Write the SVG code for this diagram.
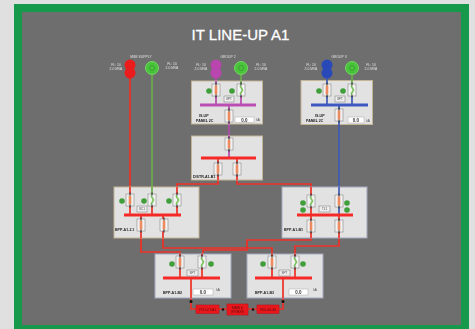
<svg xmlns="http://www.w3.org/2000/svg" xmlns:xlink="http://www.w3.org/1999/xlink" width="475" height="329" viewBox="0 0 475 329">
<style>
text{font-family:"Liberation Sans",Arial,sans-serif}
svg>g{filter:url(#soft)}
.title{font-size:15px;fill:#fff;stroke:#fff;stroke-width:.3;text-anchor:middle}
.panel{fill:#e2e2e2;stroke:#c4b496;stroke-width:1}
.panelb{fill:#e2e2e2;stroke:#a3a9bd;stroke-width:1}
.r{fill:none;stroke:#ee3026;stroke-width:1.700}
.g{fill:none;stroke:#68ad4c;stroke-width:1.700}
.m{fill:none;stroke:#b44aac;stroke-width:1.700}
.b{fill:none;stroke:#3f5ab5;stroke-width:1.700}
.busr{fill:#f52a28}.busm{fill:#b94fb3}.busb{fill:#3d58bf}
.dot{fill:#3f9e3a}
.sg{fill:#4cc43c;stroke:#6fd85f;stroke-width:1}
.sgi{fill:none;stroke:#2f8a2a;stroke-width:.6}
.sl{font-size:3.4px;fill:#e0e0e0;text-anchor:middle}
.pl{font-size:3.6px;fill:#222;font-weight:bold}
.val{fill:#fff;stroke:#aaa;stroke-width:.5}
.vt{font-size:4.5px;fill:#333;text-anchor:middle;font-weight:bold}
.sp{fill:#eee;stroke:#777;stroke-width:.5}
.st{font-size:3px;fill:#444;text-anchor:middle}
.rb{fill:#e9191c;stroke:#c01414;stroke-width:.5}
.rt{font-size:3.2px;fill:#5a0808;text-anchor:middle}
</style>
<defs>
<filter id="soft" x="-5%" y="-5%" width="110%" height="110%"><feGaussianBlur stdDeviation="0.4"/></filter>
<g id="brk"><rect x="-4" y="-6" width="8" height="12" fill="#f2f2f2" stroke="#888" stroke-width=".6"/><rect x="-1.300" y="-4.500" width="2.600" height="9" fill="#ee8a60"/><path d="M0-7.500V-4.500M0 4.500V7.500" stroke="#222" stroke-width="1"/></g>
<g id="brko"><rect x="-4" y="-6" width="8" height="12" fill="#f2f2f2" stroke="#888" stroke-width=".6"/><path d="M-1 -4.500L1.500 0L-1 4.500" fill="none" stroke="#7cc35e" stroke-width="1.600"/><path d="M0-7.500V-4.500M0 4.500V7.500" stroke="#222" stroke-width="1"/></g>
</defs>
<rect width="475" height="329" fill="#e0e0e0"/>
<rect x="14" y="4" width="455" height="325" fill="#17994c"/>
<rect x="22" y="12" width="439" height="313" fill="#6e6e6e"/>
<text class="title" x="240.500" y="40">IT LINE-UP A1</text>

<g id="connectors">
<path class="r" d="M130 78V187"/>
<path class="g" d="M152 75V187"/>
<path class="m" d="M216 78V81M229 124V136"/>
<path class="g" d="M241 75V81"/>
<path class="b" d="M327 78V80M339 125V187"/>
<path class="g" d="M352 75V80"/>
<path class="r" d="M218 180V184H177V187"/>
<path class="r" d="M237 180V184H311V187"/>
<path class="r" d="M141 238V252H180V254"/>
<path class="r" d="M163 238V248H272V254"/>
<path class="r" d="M311 238V240H247V250H203V254"/>
<path class="r" d="M339 238V246H295V254"/>
<path class="r" d="M191 298V309H196M283 298V309H279M219 309H227M248 309H257"/>
<circle cx="191" cy="301.500" r="1.500" fill="#111"/><circle cx="283" cy="301.500" r="1.500" fill="#111"/>
<circle cx="223" cy="309.500" r="1.300" fill="#111"/><circle cx="253" cy="309.500" r="1.300" fill="#111"/>
</g>

<g id="src-msb">
<text class="sl" x="141" y="57.500">MSB SUPPLY</text>
<circle cx="130" cy="65" r="5.500" fill="#ea1f1f"/><circle cx="130" cy="73" r="5.500" fill="#ea1f1f"/>
<circle class="sg" cx="152" cy="68" r="6.500"/><circle class="sgi" cx="152" cy="68" r="2.500"/>
<text class="sl" x="116" y="66">FL: 10</text><text class="sl" x="116" y="70">2.0 MVA</text>
<text class="sl" x="172" y="65">FL: 10</text><text class="sl" x="172" y="69">2.0 MVA</text>
</g>
<g id="src-group2">
<text class="sl" x="228" y="57.500">GROUP 2</text>
<circle cx="216" cy="65" r="5.500" fill="#b944ae"/><circle cx="216" cy="73" r="5.500" fill="#b944ae"/>
<circle class="sg" cx="241" cy="68" r="6.500"/><circle class="sgi" cx="241" cy="68" r="2.500"/>
<text class="sl" x="201" y="66">FL: 10</text><text class="sl" x="201" y="70">2.0 MVA</text>
<text class="sl" x="261" y="66">FL: 10</text><text class="sl" x="261" y="70">2.0 MVA</text>
</g>
<g id="src-group3">
<text class="sl" x="339" y="57.500">GROUP 3</text>
<circle cx="327" cy="65" r="5.500" fill="#2b49b8"/><circle cx="327" cy="73" r="5.500" fill="#2b49b8"/>
<circle class="sg" cx="352" cy="68" r="6.500"/><circle class="sgi" cx="352" cy="68" r="2.500"/>
<text class="sl" x="311" y="66">FL: 10</text><text class="sl" x="311" y="70">2.0 MVA</text>
<text class="sl" x="371" y="66">FL: 10</text><text class="sl" x="371" y="70">2.0 MVA</text>
</g>

<g id="panel-2c-a">
<rect class="panel" x="191.500" y="81" width="71" height="43"/>
<path class="m" d="M216 81V105M229 105V124"/><path class="g" d="M241 81V90"/><path class="m" d="M241 90V105"/>
<rect class="busm" x="200" y="103.500" width="56" height="3"/>
<use href="#brk" x="216" y="90"/><use href="#brko" x="241" y="90"/><use href="#brk" x="229" y="116"/>
<circle class="dot" cx="209" cy="91" r="2.800"/><circle class="dot" cx="232" cy="91" r="2.800"/>
<rect class="sp" x="224" y="96" width="10" height="6"/><text class="st" x="229" y="100">SPT</text>
<text class="pl" x="199" y="117">IS-UP</text><text class="pl" x="196" y="122">PANEL 2C</text>
<rect class="val" x="235" y="117" width="19" height="5.500"/><text class="vt" x="244.500" y="121.500">0.0</text><text class="st" x="258" y="121">kA</text>
</g>
<g id="panel-2c-b">
<rect class="panel" x="301" y="80.500" width="71.500" height="44"/>
<path class="b" d="M327 80V105M339 105V125"/><path class="g" d="M352 80V90"/><path class="b" d="M352 90V105"/>
<rect class="busb" x="311" y="103.500" width="57" height="3"/>
<use href="#brk" x="327" y="90"/><use href="#brko" x="352" y="90"/><use href="#brk" x="339" y="115"/>
<circle class="dot" cx="319" cy="91" r="2.800"/><circle class="dot" cx="343" cy="91" r="2.800"/>
<rect class="sp" x="335" y="96" width="10" height="6"/><text class="st" x="340" y="100">SPT</text>
<text class="pl" x="315" y="117">IS-UP</text><text class="pl" x="306" y="122">PANEL 2C</text>
<rect class="val" x="348" y="117" width="16" height="6"/><text class="vt" x="356" y="121.500">0.0</text><text class="st" x="368" y="122">kA</text>
</g>
<g id="panel-dist">
<rect class="panel" x="191.500" y="136" width="71" height="44"/>
<path class="m" d="M229 136V158"/><path class="r" d="M218 158V180M237 158V180"/>
<rect class="busr" x="201" y="156.500" width="55" height="3"/>
<use href="#brk" x="229" y="144"/><use href="#brk" x="218" y="169"/><use href="#brk" x="237" y="169"/>
<text class="pl" x="193" y="178">DISTR-A1-B1</text>
</g>
<g id="panel-bpp21">
<rect class="panel" x="114" y="187" width="85" height="51"/>
<path class="r" d="M130 187V215M177 187V215M141 215V238M163 215V238"/><path class="g" d="M152 187V200"/><path class="r" d="M152 200V215"/>
<rect class="busr" x="124" y="213.500" width="57" height="3"/>
<use href="#brk" x="130" y="200"/><use href="#brko" x="152" y="200"/><use href="#brko" x="177" y="200"/>
<use href="#brk" x="141" y="225"/><use href="#brk" x="164" y="225"/>
<circle class="dot" cx="122" cy="201" r="2.800"/><circle class="dot" cx="144" cy="201" r="2.800"/><circle class="dot" cx="169" cy="201" r="2.800"/>
<rect class="sp" x="137" y="206" width="10" height="6"/><text class="st" x="142" y="210">SC1</text>
<text class="pl" x="115" y="231">BPP-A1-2.1</text>
</g>
<g id="panel-bpp-e">
<rect class="panelb" x="282" y="187" width="85" height="51"/>
<path class="r" d="M311 187V215M311 215V238M339 215V238"/><path class="b" d="M339 187V215"/>
<rect class="busr" x="297" y="213.500" width="56" height="3"/>
<use href="#brko" x="311" y="201"/><use href="#brk" x="339" y="201"/>
<use href="#brk" x="311" y="226"/><use href="#brk" x="339" y="226"/>
<circle class="dot" cx="303" cy="203" r="2.800"/><circle class="dot" cx="303" cy="210" r="2.800"/><circle class="dot" cx="347" cy="203" r="2.800"/><circle class="dot" cx="347" cy="210" r="2.800"/>
<rect class="sp" x="319" y="206" width="11" height="6"/><text class="st" x="324.500" y="210">TL1</text>
<text class="pl" x="284" y="231">BPP-A1-B1</text>
</g>
<g id="panel-f">
<rect class="panelb" x="155" y="254" width="76" height="44"/>
<path class="r" d="M180 254V278M202 254V278M191 278V298"/>
<rect class="busr" x="163" y="276.500" width="57" height="3"/>
<use href="#brk" x="180" y="262"/><use href="#brko" x="202" y="262"/>
<circle class="dot" cx="172" cy="264" r="2.800"/><circle class="dot" cx="211" cy="264" r="2.800"/>
<rect class="sp" x="187" y="270" width="11" height="6"/><text class="st" x="192.500" y="274">SPT</text>
<text class="pl" x="163" y="294">BPP-A1-B2</text>
<rect class="val" x="193" y="289" width="20" height="6"/><text class="vt" x="203" y="293.500">0.0</text><text class="st" x="218" y="291">kA</text>
</g>
<g id="panel-g">
<rect class="panelb" x="247" y="254" width="76" height="44"/>
<path class="r" d="M272 254V278M295 254V278M283 278V298"/>
<rect class="busr" x="255" y="276.500" width="57" height="3"/>
<use href="#brk" x="272" y="262"/><use href="#brko" x="295" y="262"/>
<circle class="dot" cx="263" cy="264" r="2.800"/><circle class="dot" cx="303" cy="264" r="2.800"/>
<rect class="sp" x="279" y="270" width="11" height="6"/><text class="st" x="284.500" y="274">SPT</text>
<text class="pl" x="255" y="294">BPP-A1-B3</text>
<rect class="val" x="289" y="289" width="19" height="6"/><text class="vt" x="298.500" y="293.500">0.0</text><text class="st" x="315" y="291">kA</text>
</g>
<g id="pdu-left"><rect class="rb" x="196" y="305" width="23" height="8.500"/><text class="rt" x="207.500" y="310.500">PDU-UT-A1</text></g>
<g id="pdu-mid"><rect class="rb" x="227" y="304" width="21" height="11"/><text class="rt" x="237.500" y="308.500">MAIN &amp;</text><text class="rt" x="237.500" y="312.500">BYPASS</text></g>
<g id="pdu-right"><rect class="rb" x="257" y="305" width="22" height="8.500"/><text class="rt" x="268" y="310.500">PDU-B1-A1</text></g>
</svg>
